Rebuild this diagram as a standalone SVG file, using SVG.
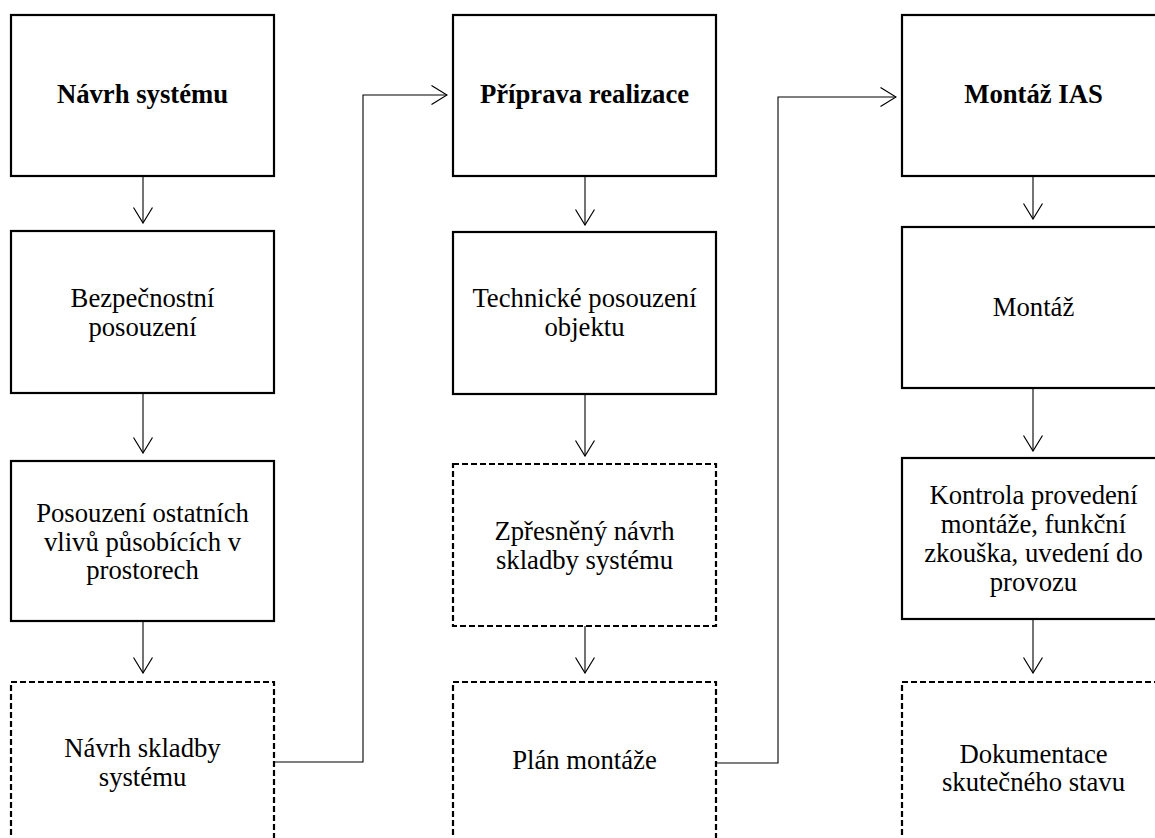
<svg xmlns="http://www.w3.org/2000/svg" width="1155" height="838" viewBox="0 0 1155 838">
<style>
.box{fill:#fff;stroke:#000;stroke-width:2.2}
.dash{fill:#fff;stroke:#000;stroke-width:2.2;stroke-dasharray:6 3}
.t{font-family:"Liberation Serif","Times New Roman",serif;font-size:26.7px;fill:#000;text-anchor:middle}
.b{font-weight:bold}
.c{fill:none;stroke:#000;stroke-width:1.1}
</style>
<defs>
<marker id="ah" viewBox="0 0 17 20" refX="16" refY="10" markerWidth="17" markerHeight="20" markerUnits="userSpaceOnUse" orient="auto">
<path d="M0.5,0.5 L16,10 L0.5,19.5" fill="none" stroke="#000" stroke-width="1.2"/>
</marker>
</defs>
<rect width="1155" height="838" fill="#fff"/>
<g id="connectors">
<line class="c" x1="143" y1="176" x2="143" y2="223" marker-end="url(#ah)"/>
<line class="c" x1="143" y1="393" x2="143" y2="453" marker-end="url(#ah)"/>
<line class="c" x1="143" y1="621" x2="143" y2="673" marker-end="url(#ah)"/>
<line class="c" x1="585" y1="176" x2="585" y2="225" marker-end="url(#ah)"/>
<line class="c" x1="585" y1="394" x2="585" y2="456" marker-end="url(#ah)"/>
<line class="c" x1="585" y1="626" x2="585" y2="673" marker-end="url(#ah)"/>
<line class="c" x1="1033" y1="176" x2="1033" y2="219" marker-end="url(#ah)"/>
<line class="c" x1="1033" y1="388" x2="1033" y2="451" marker-end="url(#ah)"/>
<line class="c" x1="1033" y1="619" x2="1033" y2="673" marker-end="url(#ah)"/>
<polyline class="c" points="274,762 363,762 363,95 447,95" marker-end="url(#ah)"/>
<polyline class="c" points="716,763 778,763 778,97 896,97" marker-end="url(#ah)"/>
</g>
<g id="n1"><rect class="box" x="11" y="15" width="263" height="161"/><text class="t b" x="142.5" y="103">Návrh systému</text></g>
<g id="n2"><rect class="box" x="11" y="231" width="263" height="162"/><text class="t" x="142.5" y="307">Bezpečnostní</text><text class="t" x="142.5" y="335.5">posouzení</text></g>
<g id="n3"><rect class="box" x="11" y="461" width="263" height="160"/><text class="t" x="142.5" y="522">Posouzení ostatních</text><text class="t" x="142.5" y="550.5">vlivů působících v</text><text class="t" x="142.5" y="579">prostorech</text></g>
<g id="n4"><rect class="dash" x="11" y="682" width="263" height="160"/><text class="t" x="142.5" y="757">Návrh skladby</text><text class="t" x="142.5" y="785.5">systému</text></g>
<g id="n5"><rect class="box" x="453" y="15" width="263" height="161"/><text class="t b" x="584.5" y="103">Příprava realizace</text></g>
<g id="n6"><rect class="box" x="453" y="232" width="263" height="162"/><text class="t" x="584.5" y="307">Technické posouzení</text><text class="t" x="584.5" y="335.5">objektu</text></g>
<g id="n7"><rect class="dash" x="453" y="464" width="263" height="162"/><text class="t" x="584.5" y="540">Zpřesněný návrh</text><text class="t" x="584.5" y="568.5">skladby systému</text></g>
<g id="n8"><rect class="dash" x="453" y="682" width="263" height="160"/><text class="t" x="584.5" y="769">Plán montáže</text></g>
<g id="n9"><rect class="box" x="902" y="15" width="263" height="161"/><text class="t b" x="1033.5" y="103">Montáž IAS</text></g>
<g id="n10"><rect class="box" x="902" y="227" width="263" height="161"/><text class="t" x="1033.5" y="316">Montáž</text></g>
<g id="n11"><rect class="box" x="902" y="458" width="263" height="161"/><text class="t" x="1033.5" y="504">Kontrola provedení</text><text class="t" x="1033.5" y="533">montáže, funkční</text><text class="t" x="1033.5" y="562">zkouška, uvedení do</text><text class="t" x="1033.5" y="591">provozu</text></g>
<g id="n12"><rect class="dash" x="902" y="682" width="263" height="160"/><text class="t" x="1033.5" y="763">Dokumentace</text><text class="t" x="1033.5" y="791">skutečného stavu</text></g>
</svg>
